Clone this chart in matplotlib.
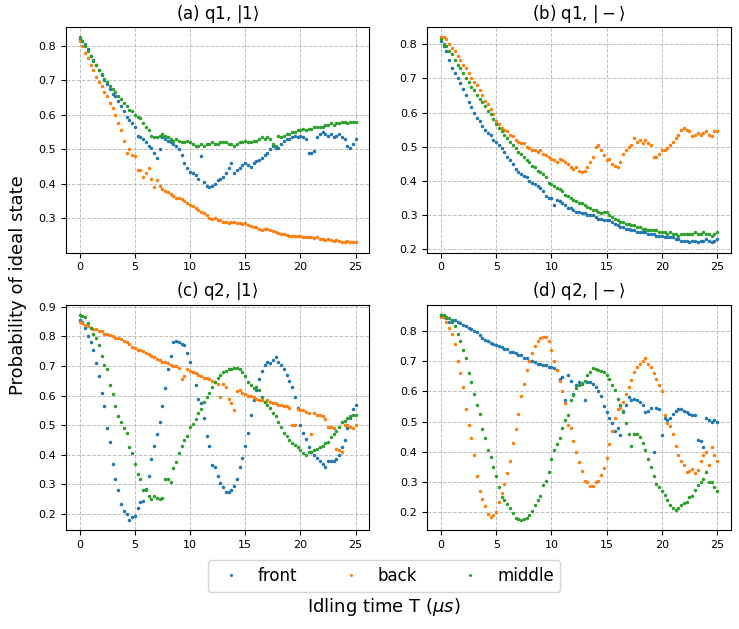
import numpy as np
import matplotlib
matplotlib.use("Agg")
import matplotlib.pyplot as plt

# idling time grid (us), 0 to 25 in steps of 0.25
T = np.linspace(0, 25, 101)

labels = ["front", "back", "middle"]
titles = [r"(a) q1, $|1\rangle$", r"(b) q1, $|-\rangle$",
          r"(c) q2, $|1\rangle$", r"(d) q2, $|-\rangle$"]

# (a) q1, |1>
a_front = [0.82, 0.815, 0.805, 0.79, 0.77, 0.76, 0.745, 0.73, 0.715, 0.70, 0.69, 0.675, 0.66, 0.655, 0.64, 0.625, 0.61, 0.595, 0.585, 0.575,
           0.565, 0.54, 0.535, 0.53, 0.52, 0.51, 0.505, 0.49, 0.475, 0.50, 0.535, 0.53, 0.525, 0.52, 0.515, 0.51, 0.50, 0.485, 0.46, 0.445,
           0.435, 0.43, 0.425, 0.415, 0.48, 0.405, 0.395, 0.39, 0.395, 0.40, 0.41, 0.415, 0.42, 0.43, 0.445, 0.46, 0.43, 0.44, 0.445, 0.455,
           0.46, 0.455, 0.45, 0.46, 0.465, 0.47, 0.475, 0.485, 0.49, 0.50, 0.51, 0.505, 0.505, 0.515, 0.525, 0.53, 0.53, 0.535, 0.54, 0.535,
           0.54, 0.535, 0.53, 0.49, 0.49, 0.495, 0.535, 0.545, 0.55, 0.545, 0.54, 0.545, 0.535, 0.54, 0.545, 0.535, 0.53, 0.51, 0.505, 0.515,
           0.53]
a_back = [0.815, 0.80, 0.78, 0.765, 0.745, 0.73, 0.71, 0.695, 0.685, 0.665, 0.655, 0.635, 0.62, 0.60, 0.575, 0.555, 0.525, 0.49, 0.50, 0.485,
          0.48, 0.44, 0.44, 0.42, 0.43, 0.445, 0.415, 0.39, 0.41, 0.395, 0.385, 0.38, 0.375, 0.37, 0.365, 0.36, 0.36, 0.355, 0.35, 0.345,
          0.34, 0.335, 0.33, 0.325, 0.318, 0.315, 0.31, 0.30, 0.298, 0.30, 0.295, 0.295, 0.29, 0.29, 0.285, 0.29, 0.288, 0.285, 0.285, 0.283,
          0.285, 0.28, 0.278, 0.275, 0.275, 0.27, 0.265, 0.27, 0.268, 0.265, 0.262, 0.26, 0.258, 0.255, 0.255, 0.252, 0.25, 0.25, 0.248, 0.25,
          0.248, 0.245, 0.245, 0.247, 0.245, 0.242, 0.245, 0.24, 0.24, 0.238, 0.24, 0.238, 0.235, 0.237, 0.235, 0.232, 0.23, 0.233, 0.232, 0.23,
          0.232]
a_middle = [0.825, 0.815, 0.80, 0.785, 0.77, 0.755, 0.745, 0.73, 0.72, 0.705, 0.695, 0.685, 0.675, 0.665, 0.655, 0.645, 0.635, 0.625, 0.615, 0.61,
            0.60, 0.595, 0.59, 0.575, 0.565, 0.555, 0.54, 0.535, 0.535, 0.54, 0.545, 0.54, 0.535, 0.53, 0.525, 0.53, 0.525, 0.52, 0.52, 0.525,
            0.52, 0.515, 0.51, 0.51, 0.515, 0.51, 0.515, 0.515, 0.52, 0.515, 0.515, 0.52, 0.52, 0.52, 0.515, 0.515, 0.51, 0.515, 0.52, 0.52,
            0.525, 0.52, 0.52, 0.525, 0.525, 0.53, 0.535, 0.53, 0.535, 0.53, 0.515, 0.51, 0.54, 0.535, 0.54, 0.545, 0.545, 0.55, 0.55, 0.555,
            0.555, 0.56, 0.555, 0.56, 0.56, 0.565, 0.565, 0.565, 0.565, 0.57, 0.57, 0.575, 0.57, 0.575, 0.575, 0.58, 0.58, 0.575, 0.58, 0.58,
            0.58]

# (b) q1, |->
b_front = [0.81, 0.795, 0.78, 0.755, 0.73, 0.715, 0.70, 0.685, 0.67, 0.65, 0.63, 0.615, 0.60, 0.585, 0.575, 0.56, 0.55, 0.54, 0.535, 0.52,
           0.515, 0.505, 0.495, 0.485, 0.47, 0.46, 0.45, 0.435, 0.425, 0.42, 0.415, 0.41, 0.40, 0.395, 0.39, 0.385, 0.38, 0.37, 0.355, 0.35,
           0.35, 0.33, 0.345, 0.34, 0.335, 0.33, 0.32, 0.32, 0.315, 0.31, 0.31, 0.305, 0.305, 0.30, 0.30, 0.30, 0.295, 0.29, 0.29, 0.285,
           0.285, 0.285, 0.28, 0.275, 0.27, 0.265, 0.265, 0.26, 0.26, 0.255, 0.255, 0.25, 0.25, 0.25, 0.25, 0.245, 0.245, 0.245, 0.24, 0.24,
           0.24, 0.235, 0.235, 0.235, 0.235, 0.23, 0.23, 0.225, 0.225, 0.225, 0.22, 0.225, 0.225, 0.22, 0.225, 0.225, 0.23, 0.225, 0.22, 0.225,
           0.23]
b_back = [0.82, 0.82, 0.815, 0.80, 0.79, 0.78, 0.765, 0.755, 0.74, 0.73, 0.715, 0.70, 0.69, 0.68, 0.665, 0.65, 0.635, 0.625, 0.61, 0.595,
          0.575, 0.565, 0.555, 0.55, 0.545, 0.535, 0.53, 0.52, 0.515, 0.51, 0.51, 0.50, 0.495, 0.49, 0.49, 0.485, 0.49, 0.48, 0.475, 0.47,
          0.465, 0.46, 0.455, 0.465, 0.46, 0.455, 0.45, 0.44, 0.435, 0.44, 0.43, 0.425, 0.43, 0.44, 0.455, 0.47, 0.50, 0.505, 0.49, 0.475,
          0.46, 0.465, 0.45, 0.445, 0.44, 0.455, 0.48, 0.49, 0.50, 0.505, 0.525, 0.515, 0.52, 0.51, 0.52, 0.51, 0.505, 0.47, 0.47, 0.48,
          0.49, 0.49, 0.495, 0.505, 0.515, 0.525, 0.535, 0.55, 0.555, 0.55, 0.545, 0.53, 0.535, 0.54, 0.535, 0.54, 0.545, 0.535, 0.53, 0.545,
          0.545]
b_middle = [0.815, 0.80, 0.795, 0.78, 0.77, 0.755, 0.74, 0.73, 0.715, 0.70, 0.69, 0.675, 0.665, 0.65, 0.64, 0.63, 0.62, 0.605, 0.595, 0.58,
            0.565, 0.555, 0.545, 0.535, 0.525, 0.515, 0.505, 0.495, 0.485, 0.48, 0.47, 0.46, 0.455, 0.445, 0.44, 0.43, 0.425, 0.42, 0.41, 0.395,
            0.39, 0.385, 0.38, 0.375, 0.37, 0.36, 0.355, 0.35, 0.345, 0.34, 0.335, 0.335, 0.33, 0.325, 0.32, 0.315, 0.315, 0.31, 0.305, 0.31,
            0.31, 0.30, 0.295, 0.29, 0.285, 0.28, 0.28, 0.275, 0.275, 0.27, 0.27, 0.265, 0.265, 0.26, 0.26, 0.255, 0.255, 0.255, 0.255, 0.25,
            0.25, 0.25, 0.245, 0.25, 0.245, 0.245, 0.24, 0.245, 0.245, 0.245, 0.245, 0.245, 0.25, 0.245, 0.245, 0.25, 0.245, 0.245, 0.24, 0.245,
            0.25]

# (c) q2, |1>
c_front = [0.855, 0.85, 0.83, 0.80, 0.78, 0.755, 0.71, 0.665, 0.61, 0.565, 0.49, 0.445, 0.37, 0.32, 0.28, 0.235, 0.21, 0.20, 0.18, 0.19,
           0.195, 0.22, 0.24, 0.245, 0.285, 0.33, 0.385, 0.43, 0.47, 0.51, 0.565, 0.625, 0.69, 0.735, 0.78, 0.785, 0.78, 0.775, 0.77, 0.745,
           0.715, 0.68, 0.635, 0.59, 0.575, 0.525, 0.465, 0.43, 0.365, 0.36, 0.33, 0.305, 0.29, 0.275, 0.275, 0.28, 0.295, 0.32, 0.36, 0.39,
           0.43, 0.475, 0.535, 0.585, 0.62, 0.655, 0.685, 0.705, 0.715, 0.71, 0.72, 0.73, 0.715, 0.705, 0.69, 0.67, 0.65, 0.63, 0.595, 0.56,
           0.50, 0.475, 0.455, 0.425, 0.41, 0.40, 0.39, 0.38, 0.37, 0.36, 0.38, 0.38, 0.38, 0.385, 0.40, 0.425, 0.45, 0.49, 0.525, 0.555,
           0.57]
c_back = [0.85, 0.845, 0.84, 0.835, 0.83, 0.825, 0.825, 0.82, 0.82, 0.81, 0.81, 0.805, 0.80, 0.795, 0.795, 0.79, 0.785, 0.78, 0.775, 0.765,
          0.76, 0.755, 0.755, 0.75, 0.745, 0.74, 0.735, 0.73, 0.725, 0.72, 0.715, 0.715, 0.71, 0.705, 0.70, 0.70, 0.695, 0.655, 0.665, 0.69,
          0.685, 0.68, 0.675, 0.67, 0.665, 0.66, 0.66, 0.655, 0.65, 0.645, 0.64, 0.595, 0.64, 0.63, 0.59, 0.575, 0.55, 0.615, 0.62, 0.61,
          0.605, 0.60, 0.60, 0.595, 0.59, 0.585, 0.585, 0.58, 0.585, 0.58, 0.575, 0.575, 0.57, 0.57, 0.565, 0.565, 0.56, 0.50, 0.50, 0.555,
          0.55, 0.55, 0.545, 0.54, 0.47, 0.54, 0.535, 0.535, 0.53, 0.52, 0.495, 0.495, 0.49, 0.42, 0.415, 0.41, 0.50, 0.50, 0.495, 0.49,
          0.50]
c_middle = [0.873, 0.87, 0.865, 0.845, 0.83, 0.81, 0.795, 0.77, 0.735, 0.705, 0.69, 0.635, 0.605, 0.565, 0.53, 0.51, 0.49, 0.475, 0.425, 0.405,
            0.37, 0.335, 0.32, 0.28, 0.28, 0.26, 0.25, 0.26, 0.255, 0.25, 0.255, 0.32, 0.32, 0.31, 0.355, 0.375, 0.405, 0.43, 0.45, 0.465,
            0.495, 0.505, 0.52, 0.54, 0.555, 0.58, 0.595, 0.61, 0.63, 0.645, 0.66, 0.67, 0.68, 0.685, 0.69, 0.69, 0.695, 0.695, 0.69, 0.68,
            0.665, 0.645, 0.635, 0.625, 0.63, 0.62, 0.595, 0.58, 0.57, 0.56, 0.54, 0.53, 0.51, 0.495, 0.475, 0.465, 0.45, 0.44, 0.435, 0.425,
            0.415, 0.405, 0.40, 0.41, 0.41, 0.415, 0.42, 0.425, 0.43, 0.44, 0.445, 0.46, 0.47, 0.48, 0.495, 0.51, 0.515, 0.525, 0.53, 0.535,
            0.535]

# (d) q2, |->
d_front = [0.85, 0.845, 0.84, 0.83, 0.835, 0.835, 0.83, 0.825, 0.82, 0.815, 0.81, 0.805, 0.80, 0.795, 0.785, 0.775, 0.77, 0.765, 0.76, 0.755,
           0.752, 0.75, 0.745, 0.74, 0.74, 0.73, 0.728, 0.725, 0.72, 0.72, 0.71, 0.71, 0.70, 0.70, 0.695, 0.69, 0.69, 0.688, 0.685, 0.68,
           0.68, 0.675, 0.67, 0.64, 0.648, 0.57, 0.655, 0.635, 0.59, 0.62, 0.63, 0.625, 0.57, 0.632, 0.63, 0.625, 0.615, 0.60, 0.585, 0.55,
           0.53, 0.51, 0.495, 0.47, 0.48, 0.455, 0.535, 0.555, 0.58, 0.57, 0.575, 0.57, 0.565, 0.555, 0.53, 0.535, 0.545, 0.40, 0.545, 0.54,
           0.455, 0.51, 0.505, 0.51, 0.525, 0.535, 0.54, 0.54, 0.535, 0.53, 0.525, 0.52, 0.52, 0.44, 0.435, 0.415, 0.51, 0.505, 0.50, 0.505,
           0.50]
d_back = [0.845, 0.845, 0.83, 0.81, 0.79, 0.755, 0.70, 0.66, 0.615, 0.54, 0.49, 0.445, 0.39, 0.32, 0.27, 0.245, 0.22, 0.195, 0.185, 0.19,
          0.20, 0.235, 0.265, 0.295, 0.33, 0.37, 0.43, 0.475, 0.525, 0.585, 0.625, 0.67, 0.70, 0.725, 0.75, 0.765, 0.775, 0.78, 0.778, 0.765,
          0.735, 0.70, 0.67, 0.635, 0.60, 0.56, 0.49, 0.48, 0.437, 0.40, 0.365, 0.337, 0.305, 0.30, 0.288, 0.288, 0.30, 0.305, 0.325, 0.345,
          0.38, 0.425, 0.47, 0.51, 0.54, 0.545, 0.565, 0.59, 0.615, 0.637, 0.665, 0.68, 0.69, 0.70, 0.708, 0.69, 0.68, 0.66, 0.64, 0.62,
          0.60, 0.52, 0.495, 0.485, 0.46, 0.42, 0.39, 0.37, 0.355, 0.333, 0.338, 0.344, 0.33, 0.34, 0.37, 0.39, 0.40, 0.355, 0.415, 0.39,
          0.37]
d_middle = [0.852, 0.85, 0.845, 0.84, 0.83, 0.815, 0.79, 0.765, 0.735, 0.71, 0.66, 0.63, 0.59, 0.555, 0.525, 0.476, 0.445, 0.405, 0.382, 0.35,
            0.32, 0.283, 0.25, 0.24, 0.227, 0.213, 0.197, 0.183, 0.177, 0.175, 0.178, 0.18, 0.193, 0.205, 0.223, 0.24, 0.255, 0.29, 0.305, 0.335,
            0.375, 0.405, 0.427, 0.445, 0.48, 0.504, 0.52, 0.57, 0.587, 0.61, 0.62, 0.628, 0.635, 0.655, 0.664, 0.678, 0.672, 0.67, 0.667, 0.662,
            0.653, 0.64, 0.62, 0.603, 0.575, 0.555, 0.53, 0.495, 0.46, 0.42, 0.46, 0.46, 0.45, 0.43, 0.405, 0.375, 0.35, 0.32, 0.294, 0.285,
            0.27, 0.258, 0.24, 0.225, 0.216, 0.207, 0.215, 0.225, 0.23, 0.235, 0.25, 0.255, 0.275, 0.29, 0.30, 0.31, 0.333, 0.30, 0.30, 0.285,
            0.272]

panels = [
    [a_front, a_back, a_middle],
    [b_front, b_back, b_middle],
    [c_front, c_back, c_middle],
    [d_front, d_back, d_middle],
]

fig, axes = plt.subplots(2, 2, figsize=(7.39, 6.29), dpi=100)
fig.subplots_adjust(left=0.089, right=0.989, top=0.957, bottom=0.157,
                    wspace=0.19, hspace=0.23)

for ax, series, title in zip(axes.flat, panels, titles):
    for ys, lab in zip(series, labels):
        ax.plot(T, ys, ".", ms=3, label=lab)
    ax.set_title(title, fontsize=12)
    ax.set_xticks([0, 5, 10, 15, 20, 25])
    ax.tick_params(labelsize=8)
    ax.grid(True, linestyle="--", color="#b0b0b0", linewidth=0.7, alpha=0.8)

handles, labs = axes[0, 0].get_legend_handles_labels()
fig.legend(handles, labs, loc="center", bbox_to_anchor=(0.52, 0.084), ncol=3,
           fontsize=12, columnspacing=2.2, handletextpad=0.6, markerscale=0.8)

fig.text(0.52, 0.035, r"Idling time T ($\mu s$)", ha="center", va="center", fontsize=13)
fig.text(0.024, 0.547, "Probability of ideal state", ha="center", va="center",
         rotation=90, fontsize=13)

plt.savefig("out.png", dpi=100)
